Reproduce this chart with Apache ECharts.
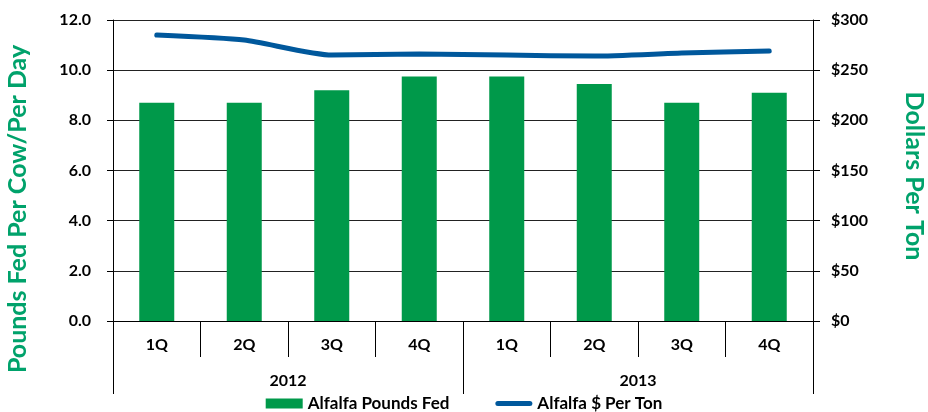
<!DOCTYPE html>
<html>
<head>
<meta charset="utf-8">
<script src="https://cdn.jsdelivr.net/npm/echarts@6/dist/echarts.min.js"></script>
<style>
  html, body { margin: 0; padding: 0; background: #fff; }
  #chart { width: 928px; height: 412px; }
</style>
</head>
<body>
<div id="chart"></div>
<script>
var quarters = ['1Q', '2Q', '3Q', '4Q', '1Q', '2Q', '3Q', '4Q'];
var years = ['2012', '2013'];
var poundsFed = [8.7, 8.7, 9.2, 9.75, 9.75, 9.45, 8.7, 9.1];
var dollarsPerTon = [285, 280, 265, 266, 265, 264, 267, 269];

var font = 'Lato, "Open Sans", sans-serif';
var green = '#00994a';
var blue = '#00589c';
var titleGreen = '#00a26b';

var chart = echarts.init(document.getElementById('chart'));
var option = {
    animation: false,
    textStyle: { fontFamily: font },
    grid: { left: 113, right: 115, top: 20, height: 301 },
    legend: {
        top: 395,
        left: 'center',
        padding: 0,
        itemGap: 46,
        itemWidth: 37,
        itemHeight: 10,
        textStyle: { color: '#000', fontSize: 17, fontWeight: 'bold', fontFamily: font },
        data: [
            { name: 'Alfalfa Pounds Fed', icon: 'rect' },
            {
                name: 'Alfalfa $ Per Ton',
                icon: 'path://M2.5,0 L34.5,0 A2.5,2.5 0 0 1 34.5,5 L2.5,5 A2.5,2.5 0 0 1 2.5,0 Z'
            }
        ]
    },
    graphic: [
        {
            type: 'text', rotation: Math.PI / 2,
            x: 18, y: 209,
            style: {
                text: 'Pounds Fed Per Cow/Per Day', fill: titleGreen,
                font: 'bold 25px ' + font, align: 'center', verticalAlign: 'middle'
            }
        },
        {
            type: 'text', rotation: -Math.PI / 2,
            x: 914, y: 176,
            style: {
                text: 'Dollars Per Ton', fill: titleGreen,
                font: 'bold 25px ' + font, align: 'center', verticalAlign: 'middle'
            }
        }
    ],
    xAxis: [
        {
            type: 'category',
            data: quarters,
            position: 'bottom',
            axisLine: { show: true, lineStyle: { color: '#000', width: 1 } },
            axisTick: { show: true, interval: 0, length: 36, lineStyle: { color: '#000' } },
            axisLabel: { interval: 0, margin: 16, color: '#000', fontSize: 16, fontWeight: 'bold' }
        },
        {
            type: 'category',
            data: years,
            position: 'bottom',
            offset: 36,
            axisLine: { show: true, onZero: false, lineStyle: { color: 'rgba(0,0,0,0)' } },
            axisTick: { show: true, interval: 0, length: 37, lineStyle: { color: '#000', width: 1 } },
            axisLabel: { interval: 0, margin: 16, color: '#000', fontSize: 16, fontWeight: 'bold' }
        }
    ],
    yAxis: [
        {
            type: 'value',
            min: 0, max: 12, interval: 2,
            axisLine: { show: true, lineStyle: { color: '#000' } },
            axisTick: { show: true, length: 6, lineStyle: { color: '#000' } },
            splitLine: { show: true, lineStyle: { color: '#222', width: 1 } },
            axisLabel: {
                margin: 22, color: '#000', fontSize: 16, fontWeight: 'bold',
                formatter: function (v) { return v.toFixed(1); }
            }
        },
        {
            type: 'value',
            min: 0, max: 300, interval: 50,
            axisLine: { show: true, lineStyle: { color: '#000' } },
            axisTick: { show: true, length: 7, lineStyle: { color: '#000' } },
            splitLine: { show: false },
            axisLabel: {
                margin: 18, color: '#000', fontSize: 16, fontWeight: 'bold',
                formatter: function (v) { return '$' + v; }
            }
        }
    ],
    series: [
        {
            name: 'Alfalfa Pounds Fed',
            type: 'bar',
            xAxisIndex: 0,
            yAxisIndex: 0,
            barWidth: 35,
            itemStyle: { color: green },
            data: poundsFed
        },
        {
            name: 'Alfalfa $ Per Ton',
            type: 'line',
            xAxisIndex: 0,
            yAxisIndex: 1,
            symbol: 'none',
            smooth: 0.2,
            lineStyle: { color: blue, width: 5, cap: 'round' },
            itemStyle: { color: blue },
            data: dollarsPerTon
        },
        {
            // empty series so the year axis gets its boundary ticks
            name: 'years',
            type: 'line',
            xAxisIndex: 1,
            yAxisIndex: 0,
            silent: true,
            symbol: 'none',
            data: [null, null]
        }
    ]
};
chart.setOption(option);
</script>
</body>
</html>
